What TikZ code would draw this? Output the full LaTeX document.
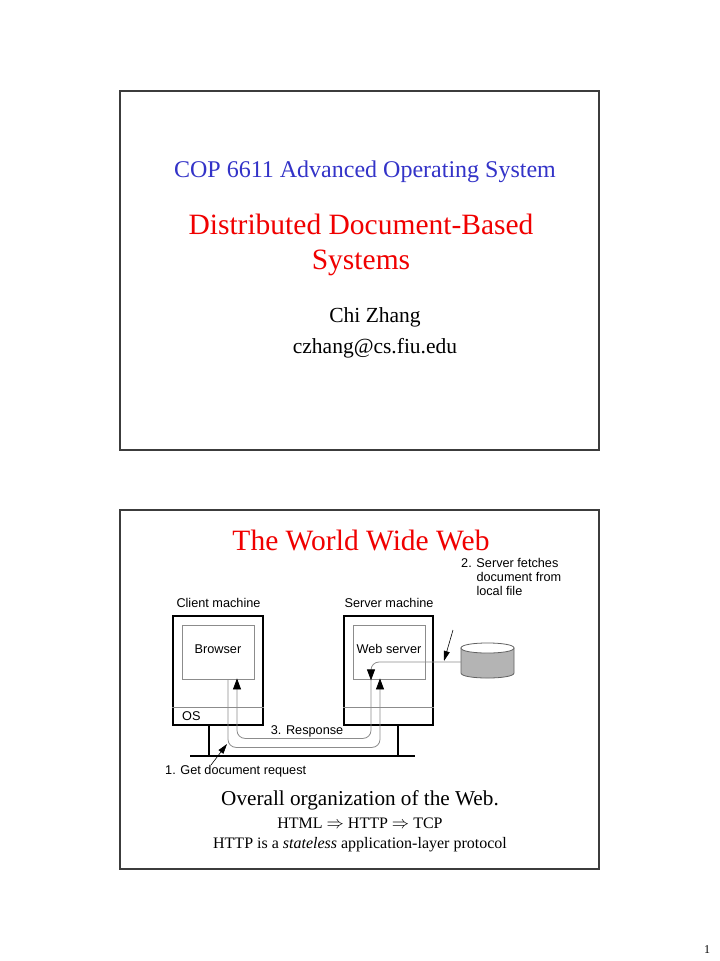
\documentclass[tikz,border=0pt]{standalone}
\usepackage{fontspec}
\setmainfont{Liberation Serif}
\newfontfamily\arialfont{Liberation Sans}
\usetikzlibrary{arrows.meta}
\definecolor{titleblue}{RGB}{51,51,200}
\definecolor{titlered}{RGB}{240,0,0}
\definecolor{frameline}{RGB}{60,60,60}
\definecolor{thingray}{RGB}{140,140,140}
\definecolor{diskgray}{RGB}{180,180,180}
\begin{document}
\begin{tikzpicture}[x=1pt,y=-1pt,
  frame/.style={draw=frameline,line width=1.4pt},
  machine/.style={draw=black,line width=1.8pt,minimum width=89pt,minimum height=109pt,inner sep=0pt},
  inbox/.style={draw=thingray,line width=0.8pt,minimum width=72pt,minimum height=54pt,inner sep=0pt},
  sans/.style={font=\arialfont\fontsize{12.7}{14}\selectfont,inner sep=0pt,anchor=base},
  flow/.style={draw=thingray,line width=0.8pt,rounded corners=8pt},
  tip/.style={-{Triangle[length=11pt,width=8pt,color=black,fill=black]}},
  pointer/.style={draw=black,line width=0.6pt,-{Triangle[length=10pt,width=6pt]}},
  serif/.style={inner sep=0pt,anchor=base}]
\useasboundingbox (0,0) rectangle (720,961);
\fill[white] (0,0) rectangle (720,961);
% slide frames
\draw[frame] (120,91) rectangle (599,450);
\draw[frame] (120,510) rectangle (599,869);
% slide 1 texts
\node[serif,text=titleblue,font=\fontsize{24}{28}\selectfont] (course) at (365,177) {COP 6611 Advanced Operating System};
\node[serif,text=titlered,font=\fontsize{29.5}{35}\selectfont] (title1) at (361,234) {Distributed Document-Based};
\node[serif,text=titlered,font=\fontsize{29.5}{35}\selectfont] (title2) at (361,269) {Systems};
\node[serif,font=\fontsize{21.5}{26}\selectfont] (author) at (375,322) {Chi Zhang};
\node[serif,font=\fontsize{21.5}{26}\selectfont] (email) at (375,353) {czhang@cs.fiu.edu};
% slide 2 title
\node[serif,text=titlered,font=\fontsize{29.5}{35}\selectfont] (title3) at (361,550) {The World Wide Web};
% machines
\node[machine,minimum width=90pt] (client) at (218,670.5) {};
\node[machine] (server) at (388.5,670.5) {};
\node[inbox] (browser) at (218,652) {};
\node[inbox] (websrv) at (389,652) {};
\draw[thingray,line width=0.8pt] (client.west |- 0,707) -- (client.east |- 0,707);
\draw[thingray,line width=0.8pt] (server.west |- 0,707) -- (server.east |- 0,707);
\node[sans] (clientlbl) at (218.5,607) {Client machine};
\node[sans] (serverlbl) at (389,607) {Server machine};
\node[sans] (browserlbl) at (218,653) {Browser};
\node[sans] (websrvlbl) at (389,653) {Web server};
\node[sans,anchor=base west] (oslbl) at (182,720) {OS};
% network
\coordinate (leftend) at (190,756);
\coordinate (rightend) at (415,756);
\draw[black,line width=1.8pt] (leftend) -- (rightend);
\draw[black,line width=1.8pt] (client.south -| 209,0) -- (209,756);
\draw[black,line width=1.8pt] (server.south -| 398,0) -- (398,756);
% disk
\node[minimum width=53pt,minimum height=35pt,inner sep=0pt] (disk) at (487.5,660.5) {};
\filldraw[fill=diskgray,draw=thingray!70!black,line width=0.8pt]
  (461,648) -- (461,673) .. controls (461,679.7) and (514,679.7) .. (514,673) -- (514,648) -- cycle;
\filldraw[fill=white,draw=thingray!70!black,line width=0.8pt]
  (461,648) .. controls (461,641.3) and (514,641.3) .. (514,648) .. controls (514,654.7) and (461,654.7) .. (461,648) -- cycle;
% flows
\draw[flow,tip] ([xshift=10pt]browser.south) -- ++(0,68) -| ([xshift=-9pt,yshift=1pt]websrv.south);
\draw[flow,tip] ([xshift=-18pt]websrv.south) -- ++(0,59) -| ([xshift=19pt,yshift=1pt]browser.south);
\draw[flow,tip] (disk.west |- 0,662) -| ([xshift=-18pt,yshift=-1pt]websrv.south);
\node[sans] (resplbl) at (307,734) {3. Response};
% annotations
\node[sans,anchor=base west] (reqlbl) at (165,774) {1. Get document request};
\node[sans,anchor=base west,align=left] (fetchlbl) at (461,595) {2. Server fetches\\\phantom{2. }document from\\\phantom{2. }local file};
\coordinate (p1s) at (211,765);
\coordinate (p1e) at (227,744);
\draw[pointer] (p1s) -- (p1e);
\coordinate (p2s) at (453,630);
\coordinate (p2e) at (444,661);
\draw[pointer] (p2s) -- (p2e);
% captions
\node[serif,font=\fontsize{21.2}{25}\selectfont] (caption) at (360,805) {Overall organization of the Web.};
\node[serif,font=\fontsize{16}{19}\selectfont] (stack) at (360,828) {HTML $\Rightarrow$ HTTP $\Rightarrow$ TCP};
\node[serif,font=\fontsize{16}{19}\selectfont] (stateless) at (360,848) {HTTP is a \textit{stateless} application-layer protocol};
\node[serif,font=\fontsize{12}{14}\selectfont] (pagenum) at (707,953) {1};
\end{tikzpicture}
\end{document}
